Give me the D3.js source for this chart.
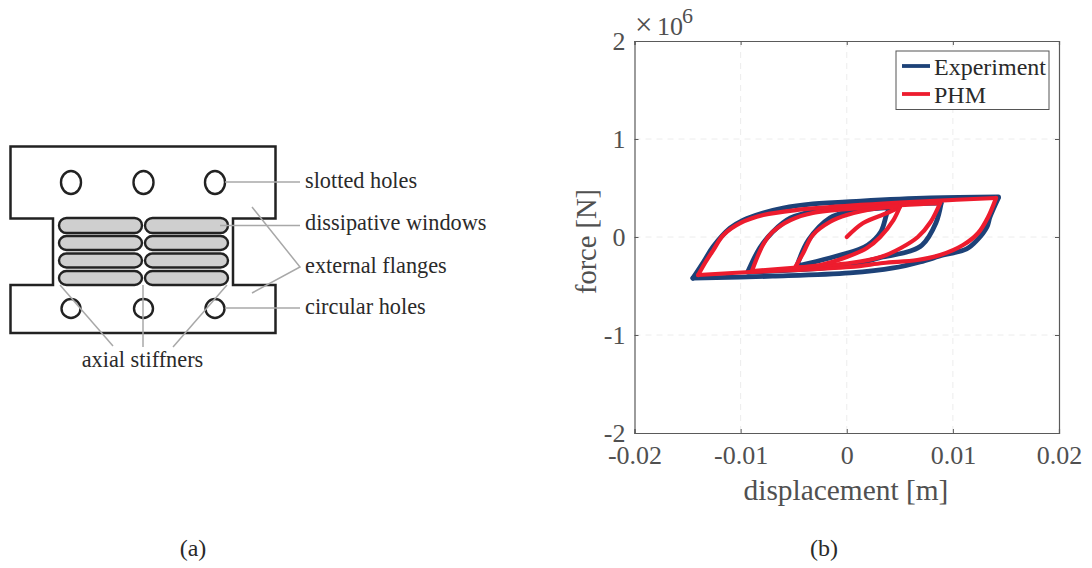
<!DOCTYPE html>
<html><head><meta charset="utf-8">
<script src="https://cdn.jsdelivr.net/npm/d3@7/dist/d3.min.js"></script>
<style>html,body{margin:0;background:#fff}svg{display:block}text{font-family:"Liberation Serif",serif}</style>
</head><body><svg id="c" width="1092" height="568"></svg>
<script>
// ---- chart (b) data: displacement [m], force [x10^6 N]
const xTicks=[-0.02,-0.01,0,0.01,0.02];
const yTicks=[-2,-1,0,1,2];
const expOuterUp=[[-.0145,-.42],[-.0135,-.255],[-.0126,-.10],[-.0110,.09],[-.0098,.17],[-.0079,.245],[-.0060,.296],[-.0032,.337],[.0013,.367],[.0079,.398],[.0143,.408]];
const expOuterDown=[[.0143,.40],[.0135,.204],[.0132,.10],[.0123,-.03],[.0113,-.122],[.0091,-.184],[.0069,-.255],[.0044,-.316],[.0003,-.367],[-.0070,-.40],[-.0145,-.42]];
const expMidUp=[[-.0093,-.35],[-.0082,-.112],[-.0070,.05],[-.0053,.194],[-.0022,.285],[.0013,.326],[.0089,.347]];
const expMidDown=[[.0089,.347],[.0084,.143],[.0071,-.082],[.0060,-.143],[.0034,-.204],[.0003,-.286],[-.0093,-.36]];
const expSmallUp=[[-.0047,-.296],[-.0036,-.03],[-.0016,.194],[0,.255],[.0040,.30]];
const expSmallDown=[[.0040,.28],[.0038,.245],[.0032,.05],[.0020,-.082],[.0010,-.133],[-.0016,-.214],[-.0047,-.296]];
const phmStart=[[0,0],[.00155,.143],[.0038,.245],[.0050,.306]];
const phmOuterUp=[[-.0140,-.388],[-.0133,-.255],[-.01257,-.133],[-.01162,.02],[-.0100,.143],[-.00786,.224],[-.00466,.276],[.00127,.327],[.00786,.367],[.01407,.398]];
const phmOuterDown=[[.01407,.398],[.01332,.204],[.01238,.041],[.01096,-.082],[.0088,-.184],[.00664,-.235],[.00344,-.265],[.00033,-.306],[-.00908,-.357],[-.0140,-.388]];
const phmMidUp=[[-.0089,-.337],[-.0079,-.082],[-.0070,.05],[-.0053,.173],[-.0032,.245],[.0013,.296],[.0088,.347]];
const phmMidDown=[[.0088,.347],[.0079,.153],[.0067,0],[.0051,-.112],[.0032,-.204],[.0003,-.265],[-.0050,-.316],[-.0089,-.347]];
const phmSmallUp=[[-.0049,-.316],[-.0041,-.163],[-.0032,.02],[-.0016,.153],[0,.224],[.0031,.296],[.0050,.316]];
const phmSmallDown=[[.0050,.306],[.0044,.173],[.00315,0],[.0019,-.112],[0,-.204],[-.0025,-.286],[-.0049,-.316]];
const expSeries=[expOuterUp,expOuterDown,expMidUp,expMidDown,expSmallUp,expSmallDown];
const phmSeries=[phmStart,phmOuterUp,phmOuterDown,phmMidUp,phmMidDown,phmSmallUp,phmSmallDown];
const legendItems=[["Experiment","#1d4278"],["PHM","#ed1c2e"]];

// ---- diagram (a) data, in drawing units
const plateOutline=[[10.5,146.5],[275.5,146.5],[275.5,218.5],[233,218.5],[233,285],[275.5,285],[275.5,333],[10.5,333],[10.5,285],[53,285],[53,218.5],[10.5,218.5]];
const holeCols=[71,143.5,215];
const windowCols=[[59,142],[145,228]];
const windowRows=[[218,233],[236,250],[253.5,267.5],[271,285]];
const leaders=[[[225,182],[300,182]],[[220,225.5],[300,225.5]],[[252,207],[300,267],[252,293]],[[225,308],[300,308]],[[60,285],[113,346]],[[143,285],[143,347]],[[227,285],[173,347]]];
const labels=[["slotted holes",305,187.5],["dissipative windows",305,230],["external flanges",305,272.5],["circular holes",305,313.5]];

const svg=d3.select("#c");
// ---- diagram
const ad=svg.append("g");
const ident=d3.scaleLinear().domain([0,1092]).range([0,1092]);
const diag=d3.line().x(d=>ident(d[0])).y(d=>ident(d[1]));
ad.selectAll("rect.w").data(windowCols.flatMap(c=>windowRows.map(r=>({c,r})))).join("rect")
 .attr("x",d=>d.c[0]).attr("y",d=>d.r[0]).attr("width",d=>d.c[1]-d.c[0]).attr("height",d=>d.r[1]-d.r[0])
 .attr("rx",7.5).attr("fill","#cfcfcf").attr("stroke","#222").attr("stroke-width",2.4);
ad.append("path").attr("d",diag(plateOutline)+"Z").attr("fill","none").attr("stroke","#222").attr("stroke-width",2.5);
ad.selectAll("ellipse").data(holeCols).join("ellipse").attr("cx",d=>d).attr("cy",182.5).attr("rx",10).attr("ry",11.5)
 .attr("fill","#fff").attr("stroke","#222").attr("stroke-width",2.4);
ad.selectAll("circle").data(holeCols).join("circle").attr("cx",d=>d).attr("cy",308.5).attr("r",9.5)
 .attr("fill","#fff").attr("stroke","#222").attr("stroke-width",2.4);
ad.selectAll("path.l").data(leaders).join("path").attr("class","l").attr("d",d=>diag(d)).attr("fill","none").attr("stroke","#a8a8a8").attr("stroke-width",1.5);
ad.selectAll("text.lb").data(labels).join("text").attr("class","lb").attr("x",d=>d[1]).attr("y",d=>d[2]).attr("font-size",22.3).attr("fill","#2a2a2a").text(d=>d[0]);
ad.append("text").attr("x",142.5).attr("y",367).attr("text-anchor","middle").attr("font-size",22.3).attr("fill","#2a2a2a").text("axial stiffners");
ad.append("text").attr("x",193).attr("y",556).attr("text-anchor","middle").attr("font-size",24).attr("fill","#2a2a2a").text("(a)");

// ---- chart
const L=634.5,R=1059,T=41,B=433;
const x=d3.scaleLinear().domain([-0.02,0.02]).range([L,R]);
const y=d3.scaleLinear().domain([-2,2]).range([B,T]);
const gray="#5a5a5a";
const g=svg.append("g");
g.selectAll("line.gx").data(xTicks.slice(1,-1)).join("line").attr("x1",d=>x(d)).attr("x2",d=>x(d)).attr("y1",T).attr("y2",B)
 .attr("stroke","#ececec").attr("stroke-dasharray","6 5");
g.selectAll("line.gy").data(yTicks.slice(1,-1)).join("line").attr("y1",d=>y(d)).attr("y2",d=>y(d)).attr("x1",L).attr("x2",R)
 .attr("stroke","#ececec").attr("stroke-dasharray","6 5");
const fmt=d=>d===0?"0":String(d);
function styl(a){a.selectAll("path.domain").attr("stroke",gray).attr("stroke-width",1.2);a.selectAll("line").attr("stroke",gray);
 a.selectAll("text").attr("font-size",26).attr("fill","#505050").style("font-family",'"Liberation Serif",serif');}
g.append("g").attr("transform",`translate(0,${B})`).call(d3.axisBottom(x).tickValues(xTicks).tickFormat(fmt).tickSize(-4).tickPadding(13)).call(styl);
g.append("g").attr("transform",`translate(0,${T})`).call(d3.axisTop(x).tickValues(xTicks).tickFormat("").tickSize(-4)).call(styl);
g.append("g").attr("transform",`translate(${L},0)`).call(d3.axisLeft(y).tickValues(yTicks).tickFormat(fmt).tickSize(-4).tickPadding(9)).call(styl);
g.append("g").attr("transform",`translate(${R},0)`).call(d3.axisRight(y).tickValues(yTicks).tickFormat("").tickSize(-4)).call(styl);
const line=d3.line().x(d=>x(d[0])).y(d=>y(d[1])).curve(d3.curveCatmullRom.alpha(.5));
const cur=svg.append("g").attr("fill","none").attr("stroke-linecap","round").attr("stroke-linejoin","round");
cur.selectAll("path.e").data(expSeries).join("path").attr("class","e").attr("d",line).attr("stroke",legendItems[0][1]).attr("stroke-width",4.8);
cur.selectAll("path.p").data(phmSeries).join("path").attr("class","p").attr("d",line).attr("stroke",legendItems[1][1]).attr("stroke-width",4.2);
// legend
svg.append("rect").attr("x",896).attr("y",51).attr("width",153).attr("height",58.5).attr("fill","#fff").attr("stroke","#555").attr("stroke-width",1);
legendItems.forEach((d,i)=>{
 svg.append("line").attr("x1",902).attr("x2",930).attr("y1",66+i*28).attr("y2",66+i*28).attr("stroke",d[1]).attr("stroke-width",3.8);
 svg.append("text").attr("x",934).attr("y",75+i*28).attr("font-size",24).attr("fill","#2a2a2a").text(d[0]);
});
// labels
svg.append("text").attr("x",846).attr("y",500).attr("text-anchor","middle").attr("font-size",29.4).attr("fill","#505050").text("displacement [m]");
svg.append("text").attr("transform","translate(596,241.5) rotate(-90)").attr("text-anchor","middle").attr("font-size",28.5).attr("fill","#505050").text("force [N]");
const ex=svg.append("text").attr("y",35).attr("font-size",26).attr("fill","#505050");
ex.append("tspan").attr("x",635).attr("font-size",31).text("×");
ex.append("tspan").attr("x",657).text("10");
ex.append("tspan").attr("x",682).attr("dy",-12).attr("font-size",22).text("6");
svg.append("text").attr("x",824).attr("y",556).attr("text-anchor","middle").attr("font-size",24).attr("fill","#2a2a2a").text("(b)");
</script></body></html>
